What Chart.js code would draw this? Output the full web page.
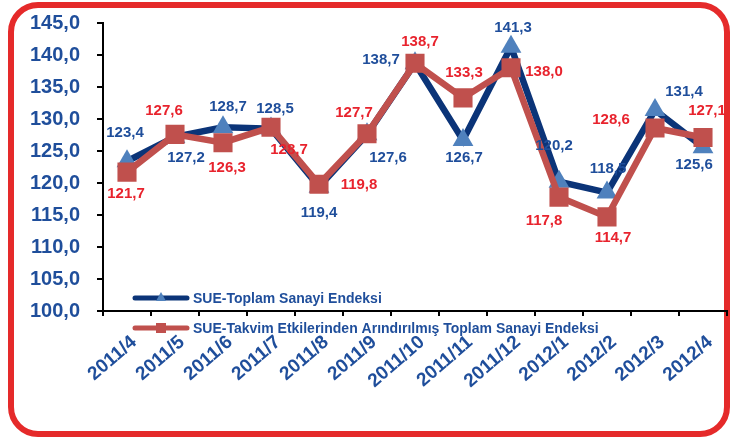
<!DOCTYPE html>
<html><head><meta charset="utf-8">
<script src="https://cdn.jsdelivr.net/npm/chart.js@4"></script>
<style>
html,body{margin:0;padding:0;background:#fff;width:730px;height:438px;overflow:hidden}
#frame{position:absolute;left:8px;top:2px;width:710px;height:423px;border:6px solid #E52A2A;border-radius:30px;}
#c{position:absolute;left:0;top:0}
</style></head><body>
<div id="frame"></div>
<canvas id="c" width="730" height="438"></canvas>
<script>
const categories = ['2011/4','2011/5','2011/6','2011/7','2011/8','2011/9','2011/10','2011/11','2011/12','2012/1','2012/2','2012/3','2012/4'];
const toplamValues = [123.4,127.2,128.7,128.5,119.4,127.6,138.7,126.7,141.3,120.2,118.5,131.4,125.6];
const takvimValues = [121.7,127.6,126.3,128.7,119.8,127.7,138.7,133.3,138.0,117.8,114.7,128.6,127.1];
const yTicks = [100,105,110,115,120,125,130,135,140,145];
const seriesNames = ['SUE-Toplam Sanayi Endeksi','SUE-Takvim Etkilerinden Arındırılmış Toplam Sanayi Endeksi'];

// label placement offsets (px, relative to the point)
const toplamLabelDx = [-2,11,5,4,0,21,-34,1,2,-5,1,29,-9];
const toplamLabelDy = [-28,21,-20,-20,26,23,-3,18,-19,-36,-24,-18,18];
const takvimLabelDx = [-1,-11,4,18,40,-13,5,1,33,-15,6,-44,4];
const takvimLabelDy = [22,-24,25,23,1,-21,-21,-25,4,24,21,-8,-27];

const BLUE_TEXT = '#1F4E9B';
const RED_TEXT = '#E8232D';
const NAVY = '#0B3478';
const TRI = '#4F81BD';
const RED = '#C0504D';
const fmt = v => v.toFixed(1).replace('.', ',');
const FONT = '"Liberation Sans", Arial, sans-serif';

const dataLabels = {
  id: 'dataLabels',
  afterDatasetsDraw(chart) {
    const ctx = chart.ctx;
    ctx.save();
    ctx.font = 'bold 15px ' + FONT;
    ctx.textAlign = 'center';
    ctx.textBaseline = 'middle';
    const specs = [
      {vals: toplamValues, dx: toplamLabelDx, dy: toplamLabelDy, color: BLUE_TEXT},
      {vals: takvimValues, dx: takvimLabelDx, dy: takvimLabelDy, color: RED_TEXT}
    ];
    specs.forEach((s, i) => {
      const meta = chart.getDatasetMeta(i);
      ctx.fillStyle = s.color;
      meta.data.forEach((pt, j) => {
        ctx.fillText(fmt(s.vals[j]), pt.x + s.dx[j], pt.y + s.dy[j]);
      });
    });
    ctx.restore();
  }
};

const customLegend = {
  id: 'customLegend',
  afterDraw(chart) {
    const ctx = chart.ctx;
    const a = chart.chartArea;
    const x0 = a.left + 32;
    const rows = [
      {y: a.bottom - 13, color: NAVY, mk: TRI, type: 'tri', text: seriesNames[0]},
      {y: a.bottom + 17, color: RED, mk: RED, type: 'sq', text: seriesNames[1]}
    ];
    ctx.save();
    rows.forEach(r => {
      ctx.strokeStyle = r.color;
      ctx.lineWidth = 5;
      ctx.lineCap = 'round';
      ctx.beginPath();
      ctx.moveTo(x0, r.y);
      ctx.lineTo(x0 + 52, r.y);
      ctx.stroke();
      ctx.fillStyle = r.mk;
      const cx = x0 + 26;
      ctx.beginPath();
      if (r.type === 'tri') {
        ctx.moveTo(cx, r.y - 6);
        ctx.lineTo(cx + 5, r.y + 3);
        ctx.lineTo(cx - 5, r.y + 3);
        ctx.closePath();
      } else {
        ctx.rect(cx - 5, r.y - 5, 10, 10);
      }
      ctx.fill();
      ctx.fillStyle = BLUE_TEXT;
      ctx.font = 'bold 14px ' + FONT;
      ctx.textAlign = 'left';
      ctx.textBaseline = 'middle';
      ctx.fillText(r.text, x0 + 58, r.y + 1);
    });
    ctx.restore();
  }
};

new Chart(document.getElementById('c'), {
  type: 'line',
  data: {
    labels: categories,
    datasets: [
      {
        label: seriesNames[0], data: toplamValues, order: 1,
        borderColor: NAVY, borderWidth: 6.5, tension: 0,
        pointStyle: 'triangle', pointRadius: 12, pointBackgroundColor: TRI,
        pointBorderColor: TRI, pointBorderWidth: 0, pointHoverRadius: 12
      },
      {
        label: seriesNames[1], data: takvimValues, order: 0,
        borderColor: RED, borderWidth: 6.5, tension: 0,
        pointStyle: 'rect', pointRadius: 13.5, pointBackgroundColor: RED,
        pointBorderColor: RED, pointBorderWidth: 0, pointHoverRadius: 13.5
      }
    ]
  },
  options: {
    responsive: false,
    animation: false,
    events: [],
    layout: {autoPadding: false, padding: {top: 23, right: 3, left: 0, bottom: 0}},
    plugins: {legend: {display: false}, tooltip: {enabled: false}},
    scales: {
      x: {
        type: 'category',
        offset: true,
        grid: {offset: true, drawOnChartArea: false, drawTicks: true, tickLength: 5, color: '#000', lineWidth: 2},
        border: {display: true, color: '#000', width: 2},
        ticks: {
          autoSkip: false, minRotation: 41, maxRotation: 41, padding: 15, labelOffset: 7,
          color: BLUE_TEXT, font: {family: FONT, size: 19, weight: 'bold'}
        },
        afterFit: s => { s.height = 127; s.paddingLeft = 0; s.paddingRight = 0; }
      },
      y: {
        min: 100, max: 145,
        grid: {drawOnChartArea: false, drawTicks: true, tickLength: 6, color: '#000', lineWidth: 2},
        border: {display: true, color: '#000', width: 2},
        afterBuildTicks: s => { s.ticks = yTicks.map(v => ({value: v})); },
        ticks: {
          padding: 17, color: BLUE_TEXT, font: {family: FONT, size: 20, weight: 'bold'},
          callback: v => fmt(v)
        },
        afterFit: s => { s.width = 103; s.paddingTop = 0; s.paddingBottom = 0; }
      }
    }
  },
  plugins: [dataLabels, customLegend]
});
</script>
</body></html>
